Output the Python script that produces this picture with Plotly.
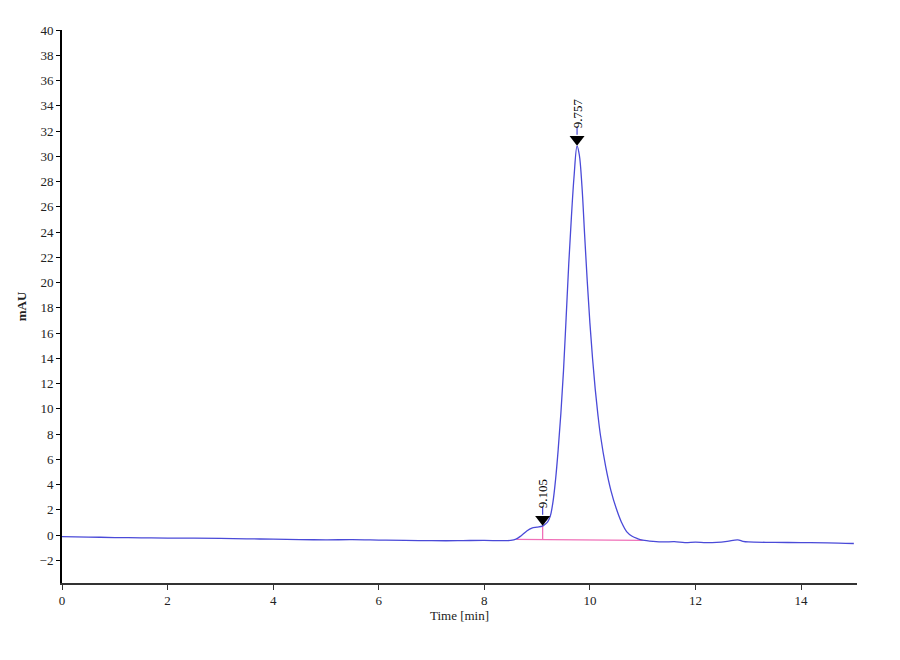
import plotly.graph_objects as go

# chromatogram
time_min = [0, 0.5, 1, 1.5, 2, 2.5, 3, 3.5, 4, 4.5, 5, 5.5, 6, 6.5, 7, 7.5, 8, 8.3, 8.5,
            8.6, 8.7, 8.8, 8.9, 9.0, 9.1, 9.15, 9.2, 9.25, 9.3, 9.35, 9.4, 9.45, 9.5, 9.55,
            9.6, 9.65, 9.7, 9.757, 9.8, 9.85, 9.9, 9.95, 10.0, 10.05, 10.1, 10.15, 10.2,
            10.3, 10.4, 10.5, 10.6, 10.7, 10.8, 10.9, 11.0, 11.2, 11.4, 11.6, 11.8, 12.0,
            12.2, 12.4, 12.6, 12.8, 12.9, 13.0, 13.5, 14.0, 14.5, 15.0]
mau = [-0.13, -0.16, -0.2, -0.22, -0.24, -0.25, -0.27, -0.3, -0.33, -0.36, -0.38, -0.37,
       -0.4, -0.43, -0.45, -0.45, -0.42, -0.45, -0.43,
       -0.33, -0.05, 0.3, 0.55, 0.62, 0.7, 0.85, 1.05, 1.5, 2.6, 4.4, 6.8, 9.6, 13.0, 17.2,
       21.5, 25.2, 28.4, 30.8, 30.1, 27.6, 23.8, 20.1, 16.8, 14.0, 11.6, 9.6, 7.9,
       5.4, 3.5, 2.1, 1.0, 0.25, -0.1, -0.28, -0.4, -0.5, -0.55, -0.52, -0.6, -0.57,
       -0.6, -0.58, -0.5, -0.38, -0.5, -0.55, -0.58, -0.6, -0.62, -0.67]

peak_times = [9.105, 9.757]
peak_heights = [0.7, 30.8]
peak_labels = ["9.105", "9.757"]

baseline_t = [8.61, 11.0]
baseline_v = [-0.35, -0.42]
drop_t = [9.105, 9.105]
drop_v = [-0.38, 0.7]

serif = "Liberation Serif"

fig = go.Figure()
fig.add_trace(go.Scatter(x=baseline_t, y=baseline_v, mode="lines",
                         line=dict(color="#f070b8", width=1.3), hoverinfo="skip"))
fig.add_trace(go.Scatter(x=drop_t, y=drop_v, mode="lines",
                         line=dict(color="#f070b8", width=1.3), hoverinfo="skip"))
fig.add_trace(go.Scatter(x=time_min, y=mau, mode="lines", line_shape="spline",
                         line=dict(color="#4a4ad8", width=1.3)))
# downward arrows sitting on the peaks
fig.add_trace(go.Scatter(x=peak_times, y=[h + 0.55 for h in peak_heights], mode="markers",
                         marker=dict(symbol="triangle-down", size=13, color="black")))

for t, h, lab in zip(peak_times, peak_heights, peak_labels):
    # short stem from the arrow up to the label
    fig.add_shape(type="line", xref="x", yref="y", x0=t, x1=t, y0=h + 0.9, y1=h + 1.5,
                  line=dict(color="#4a4ad8", width=1.2))
    fig.add_annotation(x=t, y=h, text=lab, textangle=-90, showarrow=False,
                       xanchor="center", yanchor="bottom", yshift=16,
                       font=dict(family=serif, size=13, color="black"))

fig.update_layout(
    width=900, height=660,
    margin=dict(l=54, r=51, t=22, b=85),
    paper_bgcolor="white", plot_bgcolor="white",
    showlegend=False,
    font=dict(family=serif, size=13, color="#222"),
)
fig.update_xaxes(range=[0, 15.06], tickvals=[0, 2, 4, 6, 8, 10, 12, 14],
                 showgrid=False, zeroline=False, showline=True, linecolor="#333",
                 linewidth=1.5, ticks="outside", ticklen=5, tickcolor="#333",
                 automargin=False,
                 title=dict(text="Time [min]", font=dict(family=serif, size=13), standoff=2))
fig.update_yaxes(range=[-3.8, 40], tickvals=list(range(-2, 41, 2)),
                 showgrid=False, zeroline=False, showline=True, linecolor="black",
                 linewidth=2, ticks="outside", ticklen=4, tickcolor="black",
                 automargin=False,
                 title=dict(text="<b>mAU</b>", font=dict(family=serif, size=13), standoff=10))

fig.write_html("out.html")
